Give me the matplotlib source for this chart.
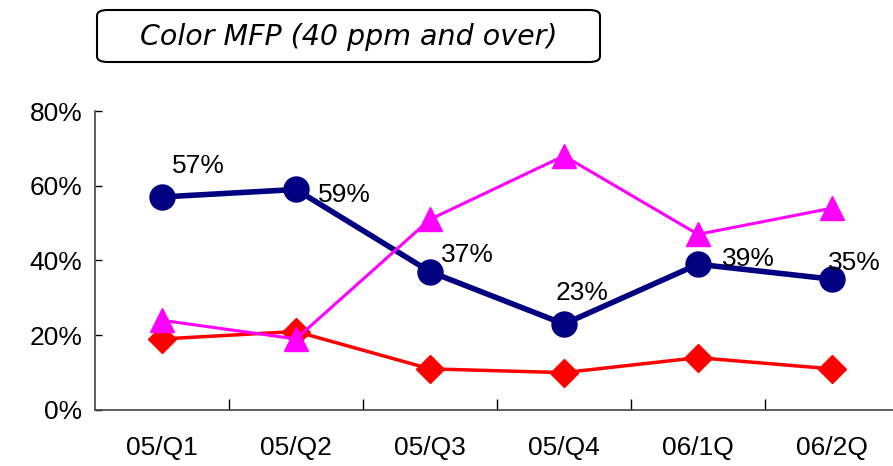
import matplotlib
matplotlib.use("Agg")
import matplotlib.pyplot as plt
from matplotlib.patches import FancyBboxPatch
import numpy as np

# ── Data ──────────────────────────────────────────────────────────────────────
quarters = ["05/Q1", "05/Q2", "05/Q3", "05/Q4", "06/1Q", "06/2Q"]
navy_share = [57, 59, 37, 23, 39, 35]
magenta_share = [24, 19, 51, 68, 47, 54]
red_share = [19, 21, 11, 10, 14, 11]
y_ticks = [0, 20, 40, 60, 80]

plt.rcParams["font.family"] = ["Liberation Sans", "DejaVu Sans"]

fig = plt.figure(figsize=(8.93, 4.66), dpi=100)
ax = fig.add_axes([0.1064, 0.1202, 0.9003, 0.6416])

x = np.arange(len(quarters))
ax.plot(x, navy_share, color="#000080", lw=4, marker="o", ms=18, zorder=3)
ax.plot(x, red_share, color="#FF0000", lw=2.5, marker="D", ms=14, zorder=4)
ax.plot(x, magenta_share, color="#FF00FF", lw=2.2, marker="^", ms=17, zorder=5)

# value labels on the navy series (offsets in points: left edge, vertical centre)
offsets = [(7, 22), (16, -4), (8, 12), (-6, 22), (17, 4), (-3, 12)]
for xi, v, (dx, dy) in zip(x, navy_share, offsets):
    ax.annotate(f"{v}%", (xi, v), xytext=(dx, dy), textcoords="offset points",
                fontsize=19, ha="left", va="center", zorder=6)

ax.set_xlim(-0.5, len(quarters) - 0.5)
ax.set_ylim(0, 80)
ax.set_yticks(y_ticks)
ax.set_yticklabels([f"{t}%" for t in y_ticks], fontsize=19)
ax.tick_params(axis="y", direction="in", length=5, width=1, pad=9)

# boundary ticks between quarters, labels centred on each quarter
ax.set_xticks(np.arange(0.5, len(quarters) - 0.5))
ax.set_xticklabels([])
ax.tick_params(axis="x", direction="in", length=8, width=1)
ax.set_xticks(x, minor=True)
ax.set_xticklabels(quarters, minor=True, fontsize=19)
ax.tick_params(axis="x", which="minor", length=0, pad=19)

for side in ("top", "right"):
    ax.spines[side].set_visible(False)
for side in ("left", "bottom"):
    ax.spines[side].set_color("#444444")
    ax.spines[side].set_linewidth(1.2)

# framed title
box = FancyBboxPatch((97 / 893, 1 - 62 / 466), 503 / 893, 52 / 466,
                     boxstyle="round,pad=0,rounding_size=0.012",
                     transform=fig.transFigure, fill=False,
                     edgecolor="black", linewidth=1.5)
fig.patches.append(box)
fig.text(349 / 893, 1 - 37 / 466, "Color MFP (40 ppm and over)",
         fontsize=20.5, style="italic", family="DejaVu Sans",
         ha="center", va="center")

fig.savefig("out.png", dpi=100)
